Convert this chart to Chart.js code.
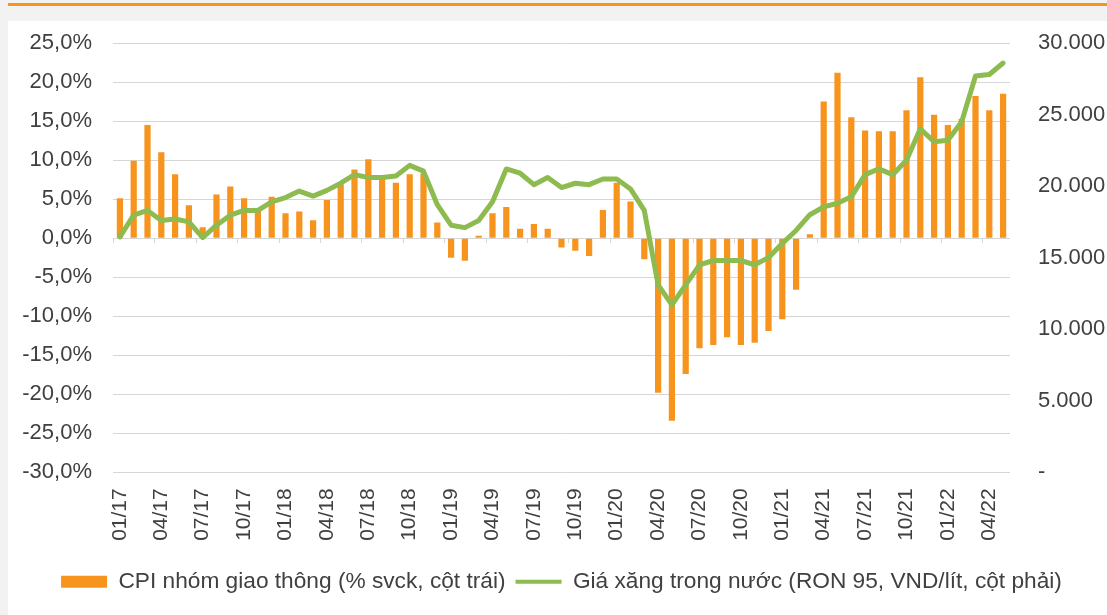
<!DOCTYPE html>
<html>
<head>
<meta charset="utf-8">
<script src="https://cdn.jsdelivr.net/npm/chart.js@4/dist/chart.umd.min.js"></script>
<style>
  html, body { margin: 0; padding: 0; background: #ffffff; }
  #wrap { position: relative; width: 1107px; height: 615px; }
</style>
</head>
<body>
<div id="wrap"><canvas id="c"></canvas></div>
<script>
// ---- Data ----
const categories = [
  '01/17','02/17','03/17','04/17','05/17','06/17','07/17','08/17','09/17','10/17','11/17','12/17',
  '01/18','02/18','03/18','04/18','05/18','06/18','07/18','08/18','09/18','10/18','11/18','12/18',
  '01/19','02/19','03/19','04/19','05/19','06/19','07/19','08/19','09/19','10/19','11/19','12/19',
  '01/20','02/20','03/20','04/20','05/20','06/20','07/20','08/20','09/20','10/20','11/20','12/20',
  '01/21','02/21','03/21','04/21','05/21','06/21','07/21','08/21','09/21','10/21','11/21','12/21',
  '01/22','02/22','03/22','04/22','05/22'
];

// CPI transport group, % yoy (left axis)
const cpiTransport = [
  5.1, 9.9, 14.5, 11.0, 8.2, 4.2, 1.4, 5.6, 6.6, 5.1, 3.7, 5.3,
  3.2, 3.4, 2.3, 4.9, 6.9, 8.8, 10.1, 7.6, 7.1, 8.2, 8.3, 2.0,
  -2.5, -2.9, 0.3, 3.2, 4.0, 1.2, 1.8, 1.2, -1.2, -1.6, -2.3, 3.6,
  7.1, 4.7, -2.7, -19.8, -23.4, -17.4, -14.1, -13.7, -12.7, -13.7, -13.4, -11.9,
  -10.4, -6.6, 0.5, 17.5, 21.2, 15.5, 13.8, 13.7, 13.7, 16.4, 20.6, 15.8,
  14.5, 15.3, 18.2, 16.4, 18.5
];

// Domestic RON 95 price, VND/litre (right axis)
const gasolinePrice = [
  16450, 17970, 18300, 17600, 17700, 17500, 16400, 17270, 17970, 18300, 18300, 18900,
  19200, 19650, 19300, 19700, 20200, 20800, 20600, 20600, 20700, 21450, 21050, 18700,
  17270, 17100, 17600, 18900, 21200, 20900, 20100, 20600, 19900, 20200, 20100, 20500,
  20500, 19800, 18300, 13100, 11700, 13100, 14500, 14800, 14800, 14800, 14500, 15000,
  16000, 16900, 18000, 18550, 18800, 19250, 20800, 21200, 20800, 21800, 24000, 23100,
  23200, 24500, 27700, 27800, 28600
];

const seriesNames = [
  'CPI nhóm giao thông (% svck, cột trái)',
  'Giá xăng trong nước (RON 95, VND/lít, cột phải)'
];

const leftTicks = { min: -30, max: 25, step: 5 };
const rightTicks = { min: 0, max: 30000, step: 5000 };

// ---- Styling ----
const ORANGE = '#F7941D';
const GREEN = '#8DBB4F';
const TEXT = '#404040';
const GRID = '#d6d6d6';
const FONT = "'Liberation Sans', Arial, sans-serif";

const backgroundPlugin = {
  id: 'bg',
  beforeDraw(chart) {
    const ctx = chart.ctx;
    ctx.save();
    ctx.fillStyle = '#f2f2f2';
    ctx.fillRect(0, 0, chart.width, chart.height);
    ctx.fillStyle = '#ffffff';
    ctx.fillRect(8, 21, chart.width - 8, chart.height - 21);
    ctx.fillStyle = ORANGE;
    ctx.fillRect(8, 3, chart.width - 8, 3);
    ctx.restore();
  }
};

const zeroTicksPlugin = {
  id: 'zeroTicks',
  beforeDatasetsDraw(chart) {
    const x = chart.scales.x, y = chart.scales.y;
    const ctx = chart.ctx;
    const step = x.getPixelForValue(1) - x.getPixelForValue(0);
    const y0 = y.getPixelForValue(0);
    ctx.save();
    ctx.strokeStyle = GRID;
    ctx.lineWidth = 1;
    ctx.beginPath();
    for (let i = 0; i < categories.length; i += 3) {
      const px = Math.round(x.getPixelForValue(i) - step / 2) + 0.5;
      ctx.moveTo(px, y0);
      ctx.lineTo(px, y0 + 5);
    }
    ctx.stroke();
    ctx.restore();
  }
};

function fmtPct(v) { return v.toFixed(1).replace('.', ',') + '%'; }
function fmtVnd(v) {
  if (v === 0) return '-';
  return String(v).replace(/\B(?=(\d{3})+(?!\d))/g, '.');
}

new Chart(document.getElementById('c'), {
  data: {
    labels: categories,
    datasets: [
      {
        type: 'bar',
        label: seriesNames[0],
        data: cpiTransport,
        yAxisID: 'y',
        backgroundColor: ORANGE,
        borderWidth: 0,
        categoryPercentage: 1,
        barPercentage: 0.45,
        order: 2
      },
      {
        type: 'line',
        label: seriesNames[1],
        data: gasolinePrice,
        yAxisID: 'y2',
        borderColor: GREEN,
        backgroundColor: GREEN,
        borderWidth: 5,
        borderJoinStyle: 'round',
        borderCapStyle: 'round',
        pointRadius: 0,
        tension: 0,
        order: 1
      }
    ]
  },
  options: {
    responsive: true,
    maintainAspectRatio: false,
    animation: false,
    layout: { padding: { left: 16, right: 0, top: 43, bottom: 12 } },
    plugins: {
      tooltip: { enabled: false },
      legend: {
        position: 'bottom',
        labels: {
          usePointStyle: true,
          pointStyleWidth: 46,
          boxHeight: 12,
          padding: 10,
          color: TEXT,
          font: { family: FONT, size: 22.7 },
          generateLabels() {
            return [
              { text: seriesNames[0], fillStyle: ORANGE, strokeStyle: ORANGE, lineWidth: 0, pointStyle: 'rect', datasetIndex: 0, hidden: false, fontColor: TEXT },
              { text: seriesNames[1], fillStyle: GREEN, strokeStyle: GREEN, lineWidth: 4, pointStyle: 'line', datasetIndex: 1, hidden: false, fontColor: TEXT }
            ];
          }
        }
      }
    },
    scales: {
      x: {
        type: 'category',
        offset: true,
        grid: { display: false, drawTicks: false },
        border: { display: false },
        afterFit(s) { s.height = 88; },
        ticks: {
          autoSkip: false,
          minRotation: 90,
          maxRotation: 90,
          padding: 16,
          color: TEXT,
          font: { family: FONT, size: 21 },
          callback(val, i) { return i % 3 === 0 ? categories[i] : ''; }
        }
      },
      y: {
        position: 'left',
        min: leftTicks.min,
        max: leftTicks.max,
        afterFit(s) { s.width = 97; },
        grid: { color: GRID, lineWidth: 1, drawTicks: false },
        border: { display: false },
        ticks: {
          stepSize: leftTicks.step,
          padding: 21,
          color: TEXT,
          font: { family: FONT, size: 22 },
          callback: v => fmtPct(v)
        }
      },
      y2: {
        position: 'right',
        min: rightTicks.min,
        max: rightTicks.max,
        afterFit(s) { s.width = 97; },
        grid: { display: false, drawTicks: false },
        border: { display: false },
        ticks: {
          stepSize: rightTicks.step,
          padding: 28,
          color: TEXT,
          font: { family: FONT, size: 22 },
          callback: v => fmtVnd(v)
        }
      }
    }
  },
  plugins: [backgroundPlugin, zeroTicksPlugin]
});
</script>
</body>
</html>
